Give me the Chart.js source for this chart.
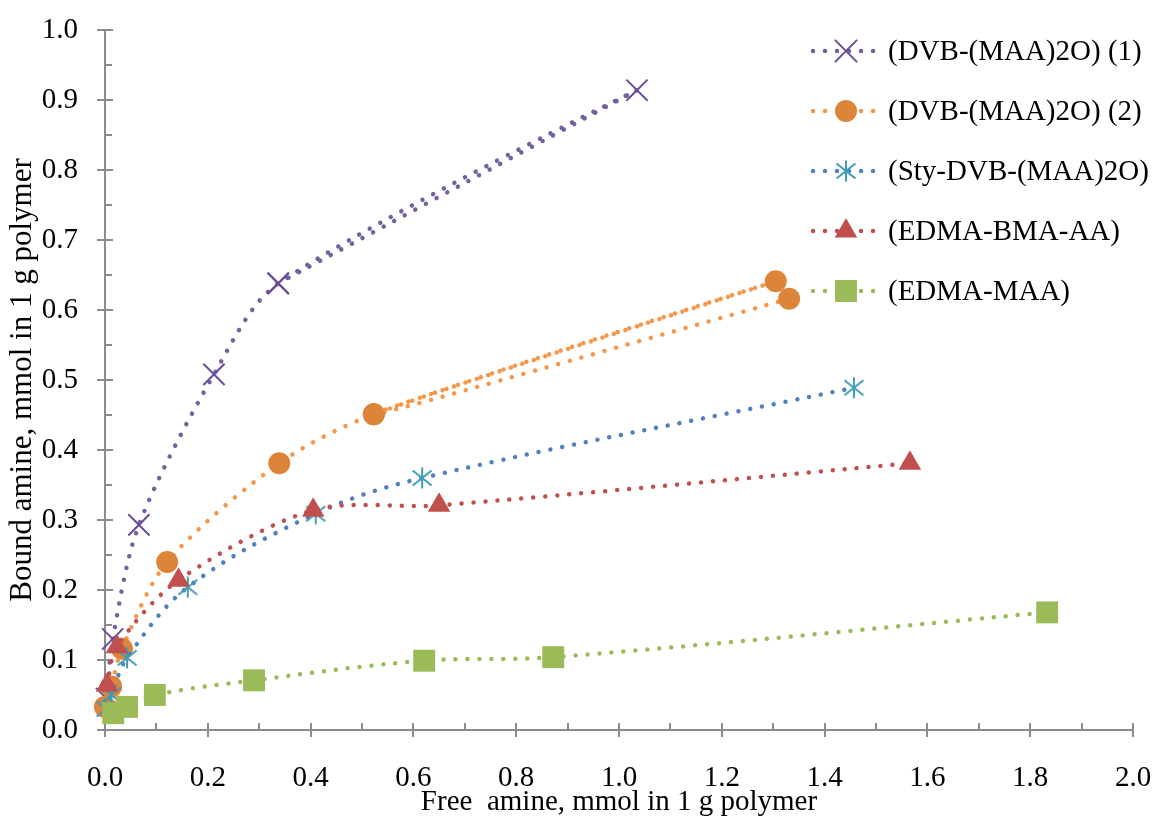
<!DOCTYPE html>
<html><head><meta charset="utf-8">
<script src="https://cdn.jsdelivr.net/npm/chart.js@4.4.1/dist/chart.umd.min.js"></script>
<style>html,body{margin:0;padding:0;background:#fff}canvas{display:block}</style>
</head><body>
<canvas id="c" width="1158" height="821"></canvas>
<script>
// ---- data ----
const seriesNames = ['(DVB-(MAA)2O) (1)', '(DVB-(MAA)2O) (2)', '(Sty-DVB-(MAA)2O)', '(EDMA-BMA-AA)', '(EDMA-MAA)'];
const dvb1X = [0.003, 0.015, 0.066, 0.212, 0.337, 1.035, 0.337];
const dvb1Y = [0.045, 0.130, 0.293, 0.508, 0.638, 0.914, 0.638];
const dvb2X = [0.000, 0.012, 0.033, 0.121, 0.339, 0.523, 1.305, 0.523, 1.331];
const dvb2Y = [0.033, 0.062, 0.116, 0.240, 0.381, 0.451, 0.641, 0.451, 0.616];
const styX = [0.002, 0.012, 0.043, 0.161, 0.410, 0.617, 1.457];
const styY = [0.030, 0.050, 0.103, 0.204, 0.309, 0.360, 0.489];
const bmaX = [0.004, 0.023, 0.143, 0.405, 0.650, 1.566];
const bmaY = [0.064, 0.119, 0.214, 0.314, 0.321, 0.381];
const maaX = [0.016, 0.043, 0.097, 0.290, 0.621, 0.872, 1.833];
const maaY = [0.024, 0.033, 0.050, 0.071, 0.099, 0.104, 0.168];
const xTickLabels = ['0.0','0.2','0.4','0.6','0.8','1.0','1.2','1.4','1.6','1.8','2.0'];
const yTickLabels = ['0.0','0.1','0.2','0.3','0.4','0.5','0.6','0.7','0.8','0.9','1.0'];
const xTitle = 'Free  amine, mmol in 1 g polymer';
const yTitle = 'Bound amine, mmol in 1 g polymer';

const pts = (xs, ys) => xs.map((v, i) => ({x: v, y: ys[i]}));

// custom asterisk marker (vertical bar + two diagonals)
function makeAsterisk(color) {
  const c = document.createElement('canvas');
  c.width = 24; c.height = 24;
  const g = c.getContext('2d');
  g.strokeStyle = color; g.lineWidth = 2; g.lineCap = 'butt';
  g.beginPath();
  g.moveTo(12, 1.5); g.lineTo(12, 22.5);
  g.moveTo(2.5, 4.5); g.lineTo(21.5, 19.5);
  g.moveTo(21.5, 4.5); g.lineTo(2.5, 19.5);
  g.stroke();
  return c;
}
const asterisk = makeAsterisk('#3E9CB6');

const serif = '"Liberation Serif", "Times New Roman", serif';
const axisColor = '#8c8c8c';
const dotDash = [0.01, 12];

function lineDs(label, data, line, marker, style, radius, bw, order, tension) {
  return {
    label, data, showLine: true, tension: tension,
    borderColor: line, borderWidth: 4.5, borderDash: dotDash, borderCapStyle: 'round',
    pointStyle: style, pointRadius: radius, pointHoverRadius: radius,
    pointBackgroundColor: marker, pointBorderColor: marker, pointBorderWidth: bw,
    clip: false, order
  };
}

const datasets = [
  lineDs(seriesNames[0], pts(dvb1X, dvb1Y), '#7460A0', '#6A4C98', 'crossRot', 15, 2, 5, 0.3),
  lineDs(seriesNames[1], pts(dvb2X, dvb2Y), '#F79646', '#DC8437', 'circle', 11, 0, 4, 0.3),
  lineDs(seriesNames[2], pts(styX, styY), '#4F81BD', '#3E9CB6', asterisk, 12, 0, 3, 0.35),
  lineDs(seriesNames[3], pts(bmaX, bmaY), '#C0504D', '#C0504D', 'triangle', 13, 0, 2, 0.3),
  lineDs(seriesNames[4], pts(maaX, maaY), '#9BBB59', '#9BBB59', 'rect', 15.5, 0, 1, 0.35)
];

const tickPlugin = {
  id: 'excelTicks',
  beforeDatasetsDraw(chart) {
    const {ctx, scales: {x, y}} = chart;
    const y0 = y.getPixelForValue(0), x0 = x.getPixelForValue(0);
    ctx.save();
    ctx.strokeStyle = axisColor; ctx.lineWidth = 2;
    ctx.beginPath();
    for (let i = 0; i <= 20; i++) {
      const px = Math.round(x.getPixelForValue(i / 10));
      if (i % 2 === 0) { ctx.moveTo(px, y0 - 7); ctx.lineTo(px, y0 + 7); }
      else { ctx.moveTo(px, y0); ctx.lineTo(px, y0 - 7); }
    }
    for (let i = 0; i <= 20; i++) {
      const py = Math.round(y.getPixelForValue(i / 20));
      if (i % 2 === 0) { ctx.moveTo(x0 - 8, py); ctx.lineTo(x0 + 8, py); }
      else { ctx.moveTo(x0, py); ctx.lineTo(x0 + 7, py); }
    }
    ctx.stroke();
    ctx.restore();
  }
};

const legendPlugin = {
  id: 'excelLegend',
  afterDraw(chart) {
    const ctx = chart.ctx;
    const top = 51, gap = 60;
    chart.data.datasets.forEach((ds, i) => {
      const yy = top + i * gap;
      ctx.save();
      ctx.strokeStyle = ds.borderColor; ctx.lineWidth = ds.borderWidth;
      ctx.lineCap = 'round'; ctx.setLineDash(ds.borderDash);
      ctx.beginPath(); ctx.moveTo(813, yy); ctx.lineTo(876, yy); ctx.stroke();
      ctx.setLineDash([]);
      ctx.fillStyle = ds.pointBackgroundColor; ctx.strokeStyle = ds.pointBorderColor;
      ctx.lineWidth = ds.pointBorderWidth || 0;
      Chart.helpers.drawPoint(ctx, {pointStyle: ds.pointStyle, radius: ds.pointRadius, rotation: 0, borderWidth: ds.pointBorderWidth}, 846, yy);
      ctx.fillStyle = '#000';
      ctx.font = '29px ' + serif;
      ctx.textBaseline = 'middle'; ctx.textAlign = 'left';
      ctx.fillText(ds.label, 888, yy + 1);
      ctx.restore();
    });
  }
};

new Chart(document.getElementById('c'), {
  type: 'scatter',
  data: {datasets},
  options: {
    responsive: false, animation: false,
    layout: {padding: {top: 30, right: 25, left: 0, bottom: 0}},
    plugins: {legend: {display: false}, tooltip: {enabled: false}},
    scales: {
      x: {
        type: 'linear', min: 0, max: 2,
        grid: {display: false},
        border: {display: true, color: axisColor, width: 2},
        ticks: {stepSize: 0.2, padding: 23, color: '#000', font: {family: serif, size: 29},
          maxRotation: 0, autoSkip: false,
          callback: (v, i) => xTickLabels[i]},
        title: {display: true, text: xTitle, color: '#000', font: {family: serif, size: 29}, padding: {top: 0, bottom: 1}},
        afterFit: s => { s.height = 91; s.paddingLeft = 0; s.paddingRight = 0; }
      },
      y: {
        type: 'linear', min: 0, max: 1,
        grid: {display: false},
        border: {display: true, color: axisColor, width: 2},
        ticks: {stepSize: 0.1, padding: 19, color: '#000', font: {family: serif, size: 29},
          autoSkip: false,
          callback: (v, i) => yTickLabels[i]},
        title: {display: true, text: yTitle, color: '#000', font: {family: serif, size: 31}, padding: {top: 4, bottom: 0}},
        afterFit: s => { s.width = 105; s.paddingTop = 0; s.paddingBottom = 0; }
      }
    }
  },
  plugins: [tickPlugin, legendPlugin]
});
</script>
</body></html>
